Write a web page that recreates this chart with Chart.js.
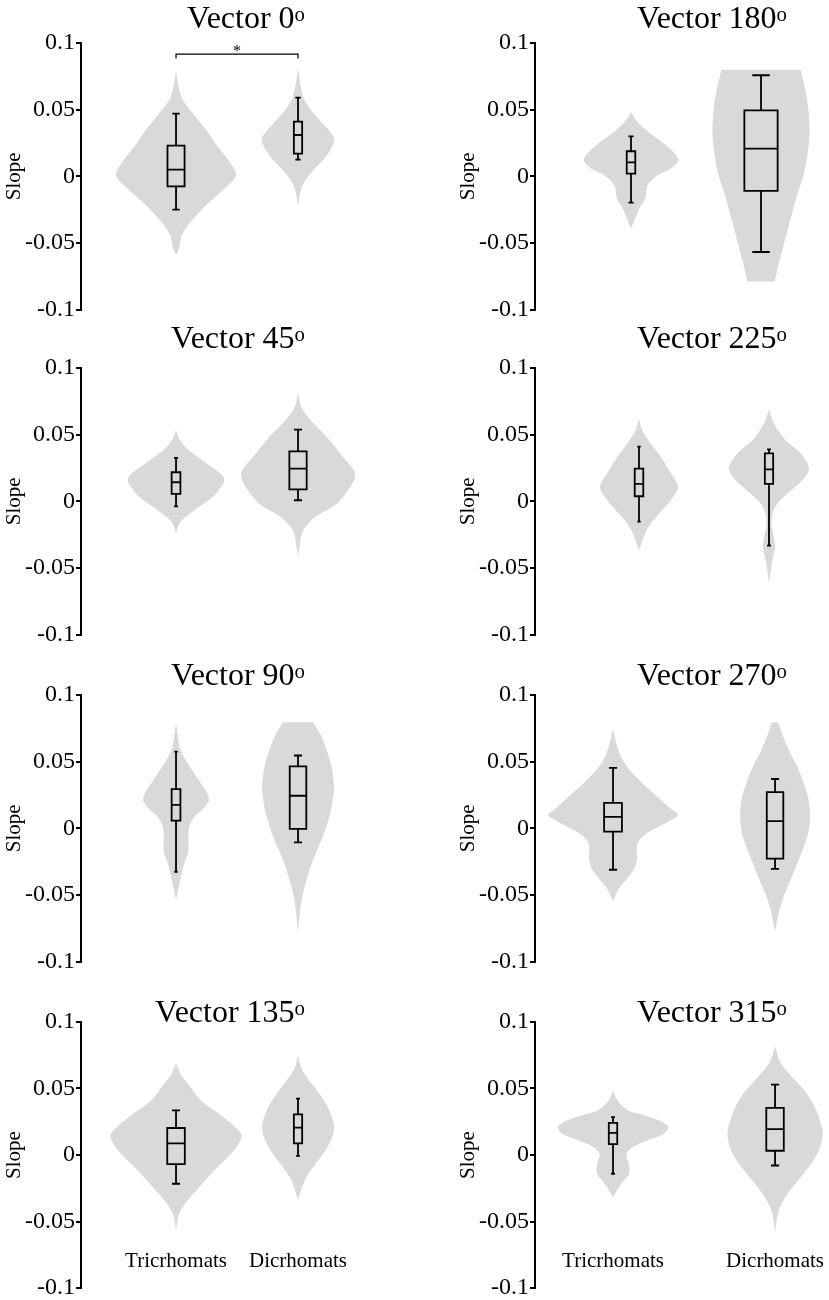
<!DOCTYPE html>
<html>
<head>
<meta charset="utf-8">
<script src="https://cdn.jsdelivr.net/npm/chart.js@4.4.0/dist/chart.umd.min.js"></script>
<style>
  body { margin: 0; background: #fff; }
  #figure { position: relative; width: 829px; height: 1300px; overflow: hidden; }
  #figure canvas { position: absolute; }
  .title {
    position: absolute; font-family: "Liberation Serif", serif; font-size: 32px;
    line-height: 32px; color: #000; text-align: right; white-space: nowrap;
  }
  .title sup { font-size: 0.65em; vertical-align: 0.32em; line-height: 0; }
</style>
</head>
<body>
<div id="figure"></div>
<script>
const groups = ["Tricrhomats", "Dicrhomats"];
const vectors = [0, 180, 45, 225, 90, 270, 135, 315];
const yTicks = [-0.1, -0.05, 0, 0.05, 0.1];

// violin outlines, top to bottom: [slope, half width in group-spacing units]
const violin0Tri = [[0.0795, 0], [0.0708, 0.014], [0.0583, 0.049], [0.0458, 0.15], [0.0333, 0.26], [0.0233, 0.333], [0.0083, 0.459], [0.0008, 0.492], [-0.0075, 0.418], [-0.025, 0.21], [-0.0418, 0.06], [-0.0543, 0.022], [-0.0593, 0]];
const violin0Dic = [[0.082, 0], [0.0708, 0.016], [0.058, 0.049], [0.048, 0.12], [0.041, 0.19], [0.033, 0.265], [0.0283, 0.298], [0.021, 0.273], [0.013, 0.213], [0.0058, 0.137], [-0.002, 0.068], [-0.009, 0.027], [-0.022, 0]];
const violin180Tri = [[0.048, 0], [0.0408, 0.049], [0.0333, 0.133], [0.0258, 0.236], [0.0183, 0.326], [0.012, 0.364], [0.0058, 0.308], [0.0008, 0.205], [-0.0068, 0.128], [-0.0168, 0.108], [-0.0243, 0.064], [-0.0318, 0.031], [-0.0393, 0]];
const violin180Dic = [[0.08, 0.305], [0.058, 0.354], [0.036, 0.374], [0.021, 0.364], [0.003, 0.333], [-0.017, 0.269], [-0.042, 0.2], [-0.067, 0.133], [-0.079, 0.105]];
const violin45Tri = [[0.0533, 0], [0.0458, 0.033], [0.0383, 0.105], [0.0308, 0.215], [0.0233, 0.33], [0.0195, 0.378], [0.017, 0.394], [0.0135, 0.39], [0.0083, 0.35], [0.0033, 0.3], [-0.0043, 0.186], [-0.0118, 0.077], [-0.0168, 0.027], [-0.0243, 0]];
const violin45Dic = [[0.082, 0], [0.0708, 0.027], [0.0583, 0.128], [0.0458, 0.26], [0.0333, 0.369], [0.0258, 0.44], [0.0208, 0.468], [0.0148, 0.455], [0.0083, 0.41], [-0.0018, 0.32], [-0.0118, 0.142], [-0.0218, 0.041], [-0.0318, 0.016], [-0.0418, 0]];
const violin225Tri = [[0.062, 0], [0.0533, 0.026], [0.0433, 0.09], [0.0333, 0.167], [0.0233, 0.231], [0.0108, 0.3], [0.0008, 0.244], [-0.0093, 0.154], [-0.0168, 0.09], [-0.0243, 0.046], [-0.0368, 0]];
const violin225Dic = [[0.0695, 0], [0.0583, 0.038], [0.0458, 0.128], [0.0358, 0.244], [0.0245, 0.308], [0.0158, 0.256], [0.0058, 0.141], [-0.0018, 0.064], [-0.0093, 0.026], [-0.0193, 0.021], [-0.0268, 0.038], [-0.0343, 0.046], [-0.0418, 0.031], [-0.0518, 0.013], [-0.0618, 0]];
const violin90Tri = [[0.079, 0], [0.0691, 0.016], [0.0593, 0.033], [0.0469, 0.109], [0.0346, 0.197], [0.0272, 0.251], [0.021, 0.27], [0.0148, 0.224], [0.0099, 0.164], [0.0025, 0.112], [-0.0049, 0.101], [-0.0173, 0.101], [-0.0247, 0.074], [-0.0346, 0.044], [-0.0444, 0.022], [-0.054, 0]];
const violin90Dic = [[0.0795, 0.123], [0.0691, 0.191], [0.0593, 0.232], [0.0469, 0.273], [0.0321, 0.295], [0.0222, 0.287], [0.0099, 0.26], [-0.0025, 0.219], [-0.0148, 0.164], [-0.0272, 0.109], [-0.0395, 0.068], [-0.0519, 0.033], [-0.0642, 0.014], [-0.0778, 0]];
const violin270Tri = [[0.0746, 0], [0.0593, 0.031], [0.0469, 0.082], [0.0346, 0.175], [0.0222, 0.288], [0.0148, 0.354], [0.0099, 0.401], [0.0049, 0.34], [-0.0049, 0.195], [-0.0123, 0.148], [-0.0222, 0.148], [-0.0296, 0.134], [-0.037, 0.093], [-0.0444, 0.041], [-0.0543, 0]];
const violin270Dic = [[0.0797, 0], [0.079, 0.021], [0.0716, 0.041], [0.0593, 0.082], [0.0469, 0.134], [0.0346, 0.175], [0.0222, 0.206], [0.0099, 0.216], [-0.0025, 0.206], [-0.0148, 0.175], [-0.0272, 0.134], [-0.0395, 0.093], [-0.0519, 0.051], [-0.0642, 0.021], [-0.0778, 0]];
const violin135Tri = [[0.0692, 0], [0.0603, 0.041], [0.0504, 0.123], [0.0404, 0.21], [0.0305, 0.36], [0.0206, 0.49], [0.0143, 0.538], [0.0057, 0.492], [-0.0042, 0.396], [-0.0141, 0.287], [-0.0241, 0.191], [-0.034, 0.096], [-0.0439, 0.027], [-0.0563, 0]];
const violin135Dic = [[0.0754, 0], [0.0655, 0.027], [0.0556, 0.096], [0.0457, 0.178], [0.0357, 0.246], [0.0258, 0.287], [0.0194, 0.295], [0.0107, 0.268], [0.0007, 0.205], [-0.0092, 0.123], [-0.0166, 0.068], [-0.0241, 0.033], [-0.034, 0]];
const violin315Tri = [[0.048, 0], [0.0404, 0.031], [0.033, 0.1], [0.0305, 0.175], [0.0255, 0.292], [0.0206, 0.342], [0.0156, 0.309], [0.0107, 0.206], [0.0057, 0.119], [0.0007, 0.082], [-0.0067, 0.097], [-0.0141, 0.099], [-0.0216, 0.051], [-0.0315, 0]];
const violin315Dic = [[0.082, 0], [0.0702, 0.031], [0.0603, 0.093], [0.0479, 0.185], [0.0355, 0.247], [0.0231, 0.284], [0.0156, 0.294], [0.0057, 0.278], [-0.0042, 0.237], [-0.0141, 0.175], [-0.0265, 0.093], [-0.0389, 0.031], [-0.0489, 0.01], [-0.0588, 0]];

// box plots: [lower whisker, Q1, median, Q3, upper whisker]
const box0Tri = [-0.025, -0.0075, 0.005, 0.023, 0.047];
const box0Dic = [0.0125, 0.017, 0.031, 0.041, 0.059];
const box180Tri = [-0.0198, 0.002, 0.0105, 0.0188, 0.030];
const box180Dic = [-0.0568, -0.011, 0.0208, 0.0495, 0.0758];
const box45Tri = [-0.0038, 0.0055, 0.0143, 0.0218, 0.0325];
const box45Dic = [0.0008, 0.009, 0.0245, 0.0375, 0.0538];
const box225Tri = [-0.0153, 0.0038, 0.013, 0.0245, 0.041];
const box225Dic = [-0.0333, 0.013, 0.024, 0.036, 0.039];
const box90Tri = [-0.0326, 0.0057, 0.0175, 0.0294, 0.0575];
const box90Dic = [-0.0106, -0.0005, 0.0244, 0.0464, 0.0546];
const box270Tri = [-0.0311, -0.0025, 0.0086, 0.019, 0.0454];
const box270Dic = [-0.0304, -0.0227, 0.0054, 0.0272, 0.037];
const box135Tri = [-0.0216, -0.0069, 0.0087, 0.0203, 0.0335];
const box135Dic = [-0.0007, 0.0087, 0.0206, 0.0305, 0.0424];
const box315Tri = [-0.0141, 0.0082, 0.0166, 0.0241, 0.0285];
const box315Dic = [-0.0079, 0.0032, 0.0194, 0.0355, 0.0529];

// significance between the two groups at vector 0
const sigVector = 0;
const sigLevel = 0.0917;
const sigLabel = "*";

const violins = {
  0: [violin0Tri, violin0Dic], 180: [violin180Tri, violin180Dic],
  45: [violin45Tri, violin45Dic], 225: [violin225Tri, violin225Dic],
  90: [violin90Tri, violin90Dic], 270: [violin270Tri, violin270Dic],
  135: [violin135Tri, violin135Dic], 315: [violin315Tri, violin315Dic]
};
const boxes = {
  0: [box0Tri, box0Dic], 180: [box180Tri, box180Dic],
  45: [box45Tri, box45Dic], 225: [box225Tri, box225Dic],
  90: [box90Tri, box90Dic], 270: [box270Tri, box270Dic],
  135: [box135Tri, box135Dic], 315: [box315Tri, box315Dic]
};

// where each panel sits, and box drawing widths (x units)
const panelLayout = [
  { left: 0,   top: 0,   titleTop: 1,   xMin: 0.221,  xMax: 2.959, box: [0.07, 0.034],  cap: [0.03, 0.022] },
  { left: 415, top: 0,   titleTop: 1,   xMin: 0.2615, xMax: 2.523, box: [0.033, 0.128], cap: [0.02, 0.067] },
  { left: 0,   top: 325, titleTop: 321, xMin: 0.221,  xMax: 2.959, box: [0.036, 0.071], cap: [0.016, 0.033] },
  { left: 415, top: 325, titleTop: 321, xMin: 0.2,    xMax: 2.4615, box: [0.033, 0.032], cap: [0.013, 0.015] },
  { left: 0,   top: 652, titleTop: 658, xMin: 0.221,  xMax: 2.959, box: [0.036, 0.068], cap: [0.014, 0.033] },
  { left: 415, top: 652, titleTop: 658, xMin: 0.5185, xMax: 2.333, box: [0.055, 0.051], cap: [0.025, 0.025] },
  { left: 0,   top: 979, titleTop: 995, xMin: 0.221,  xMax: 2.959, box: [0.072, 0.034], cap: [0.033, 0.016] },
  { left: 415, top: 979, titleTop: 995, xMin: 0.5185, xMax: 2.333, box: [0.026, 0.054], cap: [0.012, 0.025] }
];

const serif = "'Liberation Serif', 'Times New Roman', serif";

function violinOutline(c, profile) {
  const right = profile.map(([y, w]) => ({ x: c + w, y }));
  const left = profile.slice().reverse().map(([y, w]) => ({ x: c - w, y }));
  // truncated ends: repeat the corner points so the curve keeps square corners
  if (profile[0][1] > 0) {
    right.unshift({ ...right[0] });
    left.push({ ...left[left.length - 1] });
  }
  if (profile[profile.length - 1][1] > 0) {
    right.push({ ...right[right.length - 1] });
    left.unshift({ ...left[0] });
  }
  return right.concat(left);
}

function boxPoints(c, stats, half, cap) {
  const [lo, q1, med, q3, hi] = stats;
  const gap = { x: null, y: null };
  return [
    { x: c, y: q1 }, { x: c + half, y: q1 }, { x: c + half, y: q3 }, { x: c - half, y: q3 }, { x: c - half, y: q1 }, { x: c, y: q1 }, gap,
    { x: c - half, y: med }, { x: c + half, y: med }, gap,
    { x: c, y: q3 }, { x: c, y: hi }, gap,
    { x: c - cap, y: hi }, { x: c + cap, y: hi }, gap,
    { x: c, y: q1 }, { x: c, y: lo }, gap,
    { x: c - cap, y: lo }, { x: c + cap, y: lo }
  ];
}

const sigStar = {
  id: "sigStar",
  afterDatasetsDraw(chart, args, opts) {
    if (!opts.text) return;
    const { ctx, scales: { x, y } } = chart;
    ctx.save();
    ctx.font = "16px " + serif;
    ctx.fillStyle = "#000";
    ctx.textAlign = "center";
    ctx.fillText(opts.text, x.getPixelForValue(opts.x), y.getPixelForValue(opts.y));
    ctx.restore();
  }
};

const fig = document.getElementById("figure");

vectors.forEach((vec, i) => {
  const lay = panelLayout[i];
  const isRight = lay.left > 0;
  const isBottom = i >= 6;

  const canvas = document.createElement("canvas");
  canvas.width = isRight ? 414 : 415;
  canvas.height = 325;
  canvas.style.left = lay.left + "px";
  canvas.style.top = lay.top + "px";
  fig.appendChild(canvas);

  const title = document.createElement("div");
  title.className = "title";
  title.style.left = lay.left + "px";
  title.style.width = (isRight ? 372 : 305) + "px";
  title.style.top = lay.titleTop + "px";
  title.innerHTML = "Vector " + vec + "<sup>o</sup>";
  fig.appendChild(title);

  const datasets = [];
  groups.forEach((g, k) => {
    datasets.push({
      label: g,
      data: violinOutline(k + 1, violins[vec][k]),
      showLine: true,
      fill: "shape",
      backgroundColor: "#d9d9d9",
      borderColor: "transparent",
      borderWidth: 0,
      pointRadius: 0,
      tension: 0.3,
      order: 2
    });
  });
  groups.forEach((g, k) => {
    datasets.push({
      label: g + " box",
      data: boxPoints(k + 1, boxes[vec][k], lay.box[k], lay.cap[k]),
      showLine: true,
      fill: false,
      borderColor: "#000",
      borderWidth: 1.8,
      borderJoinStyle: "miter",
      pointRadius: 0,
      tension: 0,
      order: 1
    });
  });
  if (vec === sigVector) {
    datasets.push({
      label: "significance",
      data: [{ x: 1, y: sigLevel - 0.0033 }, { x: 1, y: sigLevel }, { x: 2, y: sigLevel }, { x: 2, y: sigLevel - 0.0033 }],
      showLine: true,
      fill: false,
      borderColor: "#000",
      borderWidth: 1.2,
      pointRadius: 0,
      tension: 0,
      order: 0
    });
  }

  new Chart(canvas, {
    type: "scatter",
    data: { datasets },
    plugins: vec === sigVector ? [sigStar] : [],
    options: {
      responsive: false,
      animation: false,
      events: [],
      layout: { padding: { left: isRight ? 39 : 0, right: 0, top: 43, bottom: isBottom ? 16 : 15 } },
      plugins: {
        legend: { display: false },
        tooltip: { enabled: false },
        sigStar: { x: 1.5, y: sigLevel - 0.0012, text: vec === sigVector ? sigLabel : "" }
      },
      scales: {
        x: {
          type: "linear",
          min: lay.xMin,
          max: lay.xMax,
          display: isBottom,
          position: isBottom ? { y: -0.0705 } : "bottom",
          grid: { display: false, drawTicks: false },
          border: { display: false },
          afterBuildTicks: s => { s.ticks = groups.map((g, k) => ({ value: k + 1 })); },
          ticks: {
            callback: v => groups[v - 1],
            font: { family: serif, size: 21 },
            color: "#000",
            padding: 0,
            autoSkip: false,
            maxRotation: 0
          }
        },
        y: {
          min: -0.1,
          max: 0.1,
          afterBuildTicks: s => { s.ticks = yTicks.map(v => ({ value: v })); },
          afterFit: s => { s.width = 81; },
          grid: { drawOnChartArea: false, drawTicks: true, tickLength: 5, color: "#000", lineWidth: 2 },
          border: { display: true, color: "#000", width: 2 },
          ticks: {
            callback: v => String(Math.round(v * 100) / 100),
            font: { family: serif, size: 24 },
            color: "#000",
            padding: 1
          },
          title: {
            display: true,
            text: "Slope",
            font: { family: serif, size: 21 },
            color: "#000",
            padding: 2
          }
        }
      }
    }
  });
});
</script>
</body>
</html>
